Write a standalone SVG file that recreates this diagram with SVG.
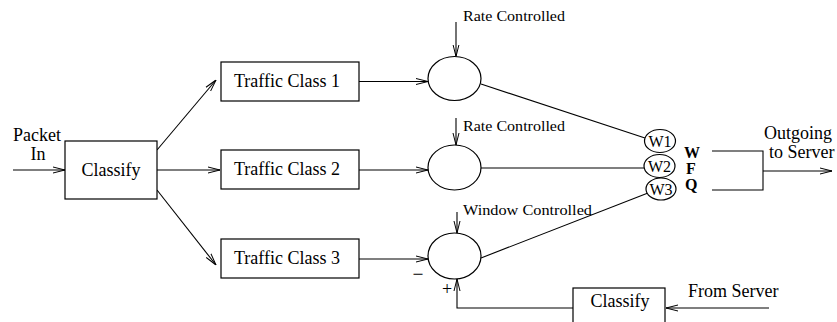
<svg xmlns="http://www.w3.org/2000/svg" width="837" height="322" viewBox="0 0 837 322">
<style>
.box{fill:#fff;stroke:#000;stroke-width:1.2}
.ell{fill:#fff;stroke:#000;stroke-width:1.2}
.ln{fill:none;stroke:#000;stroke-width:1.1}
.t{font-family:"Liberation Serif","Times New Roman",serif;font-size:18px;fill:#000}
.s{font-family:"Liberation Serif","Times New Roman",serif;font-size:14px;fill:#000}
.w{font-family:"Liberation Serif","Times New Roman",serif;font-size:16px;fill:#000}
.q{font-family:"Liberation Serif","Times New Roman",serif;font-size:16px;font-weight:bold;fill:#000}
</style>
<defs>
<marker id="ar" viewBox="0 0 12 8" refX="12" refY="4" markerWidth="12" markerHeight="8" markerUnits="userSpaceOnUse" orient="auto">
<path d="M0,1 L12,4 L0,7" fill="none" stroke="#000" stroke-width="1"/>
</marker>
</defs>
<rect width="837" height="322" fill="#fff"/>
<g id="connectors">
<line class="ln" x1="13" y1="170" x2="65" y2="170" marker-end="url(#ar)"/>
<line class="ln" x1="157" y1="150" x2="216" y2="80" marker-end="url(#ar)"/>
<line class="ln" x1="157" y1="170" x2="220" y2="170" marker-end="url(#ar)"/>
<line class="ln" x1="157" y1="190" x2="216" y2="265" marker-end="url(#ar)"/>
<line class="ln" x1="359" y1="81.5" x2="428" y2="81.5" marker-end="url(#ar)"/>
<line class="ln" x1="359" y1="170" x2="428" y2="170" marker-end="url(#ar)"/>
<line class="ln" x1="359" y1="259" x2="428" y2="259" marker-end="url(#ar)"/>
<line class="ln" x1="456" y1="22" x2="456" y2="56.5" marker-end="url(#ar)"/>
<line class="ln" x1="456" y1="118" x2="456" y2="145" marker-end="url(#ar)"/>
<line class="ln" x1="457" y1="212" x2="457" y2="233" marker-end="url(#ar)"/>
<line class="ln" x1="481" y1="84" x2="645" y2="138"/>
<line class="ln" x1="481" y1="168" x2="644" y2="168"/>
<line class="ln" x1="481" y1="258" x2="648" y2="193"/>
<polyline class="ln" points="712,151 763,151 763,190 712,190"/>
<line class="ln" x1="763" y1="171" x2="832" y2="171" marker-end="url(#ar)"/>
<polyline class="ln" points="573,308 457,308 457,279" marker-end="url(#ar)"/>
<line class="ln" x1="769" y1="308" x2="666" y2="308" marker-end="url(#ar)"/>
</g>
<g id="packet-in"><text class="t" x="13" y="141">Packet</text><text class="t" x="38" y="160" text-anchor="middle">In</text></g>
<g id="classify1"><rect class="box" x="65" y="141" width="92" height="58"/><text class="t" x="111" y="176" text-anchor="middle">Classify</text></g>
<g id="tc1"><rect class="box" x="221" y="62" width="138" height="39"/><text class="t" x="287" y="87" text-anchor="middle">Traffic Class 1</text></g>
<g id="tc2"><rect class="box" x="221" y="150" width="138" height="39"/><text class="t" x="287" y="175" text-anchor="middle">Traffic Class 2</text></g>
<g id="tc3"><rect class="box" x="221" y="239" width="138" height="39"/><text class="t" x="287" y="264" text-anchor="middle">Traffic Class 3</text></g>
<g id="c1"><ellipse class="ell" cx="454.5" cy="78.5" rx="26.5" ry="22"/><text class="s" x="463" y="21" textLength="102" lengthAdjust="spacingAndGlyphs">Rate Controlled</text></g>
<g id="c2"><ellipse class="ell" cx="454.5" cy="167.5" rx="26.5" ry="22.5"/><text class="s" x="463" y="131" textLength="102" lengthAdjust="spacingAndGlyphs">Rate Controlled</text></g>
<g id="c3"><ellipse class="ell" cx="454.5" cy="256" rx="26.5" ry="23"/><text class="s" x="463" y="215" textLength="129" lengthAdjust="spacingAndGlyphs">Window Controlled</text><text class="t" x="418" y="280" text-anchor="middle" textLength="11" lengthAdjust="spacingAndGlyphs">−</text><text class="t" x="447" y="295" text-anchor="middle">+</text></g>
<g id="w1"><ellipse class="ell" cx="660" cy="141" rx="15.5" ry="11.5"/><text class="w" x="660" y="146.5" text-anchor="middle">W1</text></g>
<g id="w2"><ellipse class="ell" cx="659.5" cy="166" rx="15.5" ry="11.5"/><text class="w" x="659.5" y="171.5" text-anchor="middle">W2</text></g>
<g id="w3"><ellipse class="ell" cx="661" cy="189" rx="15" ry="11"/><text class="w" x="661" y="194.5" text-anchor="middle">W3</text></g>
<g id="wfq"><text class="q" x="684" y="158">W</text><text class="q" x="686" y="174">F</text><text class="q" x="685" y="190">Q</text></g>
<g id="outgoing"><text class="t" x="764" y="139">Outgoing</text><text class="t" x="769" y="158">to Server</text></g>
<g id="classify2"><rect class="box" x="573" y="288" width="92" height="50"/><text class="t" x="620" y="307" text-anchor="middle">Classify</text></g>
<g id="from-server"><text class="t" x="688" y="297">From Server</text></g>
</svg>
